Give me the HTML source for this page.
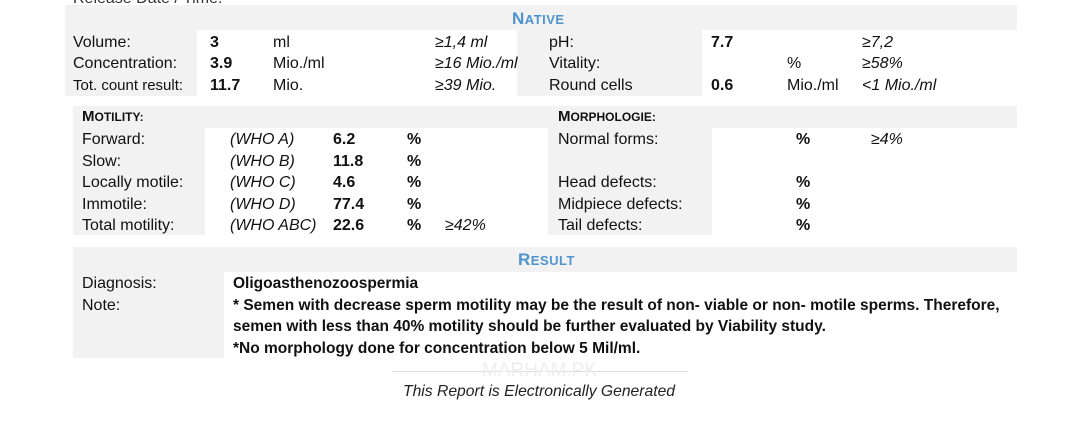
<!DOCTYPE html>
<html><head><meta charset="utf-8">
<style>
body{margin:0;width:1080px;height:421px;background:#fff;position:relative;overflow:hidden;font-family:"Liberation Sans",sans-serif;color:#111;font-size:16px}
.g{position:absolute;background:#f2f2f2}
.t{position:absolute;white-space:nowrap;line-height:17px}
.b{font-weight:bold}
.i{font-style:italic}
.h{position:absolute;color:#4f93cf;font-weight:bold;font-size:17px;letter-spacing:0.5px;line-height:18px}
.h small{font-size:13px}
.sc{font-weight:bold;font-size:15px}
.sc small{font-size:12px}
</style></head><body>
<div class="t" style="left:73px;top:-10px;color:#333">Release Date / Time:</div>

<div class="g" style="left:65px;top:5px;width:952px;height:25px"></div>
<div class="h" style="left:512px;top:10px">N<small>ATIVE</small></div>
<div class="g" style="left:65px;top:30px;width:132px;height:66px"></div>
<div class="g" style="left:517px;top:30px;width:185px;height:66px"></div>

<div class="t" style="left:73px;top:34px">Volume:</div>
<div class="t b" style="left:210px;top:34px">3</div>
<div class="t" style="left:273px;top:34px">ml</div>
<div class="t i" style="left:435px;top:34px">≥1,4 ml</div>
<div class="t" style="left:73px;top:55px">Concentration:</div>
<div class="t b" style="left:210px;top:55px">3.9</div>
<div class="t" style="left:273px;top:55px">Mio./ml</div>
<div class="t i" style="left:435px;top:55px">≥16 Mio./ml</div>
<div class="t" style="left:73px;top:77px;font-size:15px">Tot. count result:</div>
<div class="t b" style="left:210px;top:77px">11.7</div>
<div class="t" style="left:273px;top:77px">Mio.</div>
<div class="t i" style="left:435px;top:77px">≥39 Mio.</div>

<div class="t" style="left:549px;top:34px">pH:</div>
<div class="t b" style="left:711px;top:34px">7.7</div>
<div class="t i" style="left:862px;top:34px">≥7,2</div>
<div class="t" style="left:549px;top:55px">Vitality:</div>
<div class="t" style="left:787px;top:55px">%</div>
<div class="t i" style="left:862px;top:55px">≥58%</div>
<div class="t" style="left:549px;top:77px">Round cells</div>
<div class="t b" style="left:711px;top:77px">0.6</div>
<div class="t" style="left:787px;top:77px">Mio./ml</div>
<div class="t i" style="left:862px;top:77px">&lt;1 Mio./ml</div>

<div class="g" style="left:73px;top:106px;width:944px;height:22px"></div>
<div class="g" style="left:73px;top:128px;width:132px;height:107px"></div>
<div class="g" style="left:548px;top:128px;width:164px;height:107px"></div>
<div class="t sc" style="left:82px;top:108px">M<small>OTILITY:</small></div>
<div class="t sc" style="left:558px;top:108px">M<small>ORPHOLOGIE:</small></div>

<div class="t" style="left:82px;top:131px">Forward:</div>
<div class="t i" style="left:230px;top:131px">(WHO A)</div>
<div class="t b" style="left:333px;top:131px">6.2</div>
<div class="t b" style="left:407px;top:131px">%</div>
<div class="t" style="left:82px;top:153px">Slow:</div>
<div class="t i" style="left:230px;top:153px">(WHO B)</div>
<div class="t b" style="left:333px;top:153px">11.8</div>
<div class="t b" style="left:407px;top:153px">%</div>
<div class="t" style="left:82px;top:174px">Locally motile:</div>
<div class="t i" style="left:230px;top:174px">(WHO C)</div>
<div class="t b" style="left:333px;top:174px">4.6</div>
<div class="t b" style="left:407px;top:174px">%</div>
<div class="t" style="left:82px;top:196px">Immotile:</div>
<div class="t i" style="left:230px;top:196px">(WHO D)</div>
<div class="t b" style="left:333px;top:196px">77.4</div>
<div class="t b" style="left:407px;top:196px">%</div>
<div class="t" style="left:82px;top:217px">Total motility:</div>
<div class="t i" style="left:230px;top:217px">(WHO ABC)</div>
<div class="t b" style="left:333px;top:217px">22.6</div>
<div class="t b" style="left:407px;top:217px">%</div>
<div class="t i" style="left:445px;top:217px">≥42%</div>

<div class="t" style="left:558px;top:131px">Normal forms:</div>
<div class="t b" style="left:796px;top:131px">%</div>
<div class="t i" style="left:871px;top:131px">≥4%</div>
<div class="t" style="left:558px;top:174px">Head defects:</div>
<div class="t b" style="left:796px;top:174px">%</div>
<div class="t" style="left:558px;top:196px">Midpiece defects:</div>
<div class="t b" style="left:796px;top:196px">%</div>
<div class="t" style="left:558px;top:217px">Tail defects:</div>
<div class="t b" style="left:796px;top:217px">%</div>

<div class="g" style="left:73px;top:247px;width:944px;height:25px"></div>
<div class="g" style="left:73px;top:272px;width:151px;height:86px"></div>
<div class="h" style="left:518px;top:251px">R<small>ESULT</small></div>
<div class="t" style="left:82px;top:275px">Diagnosis:</div>
<div class="t b" style="left:233px;top:275px;font-size:15.5px">Oligoasthenozoospermia</div>
<div class="t" style="left:82px;top:297px">Note:</div>
<div class="t b" style="left:233px;top:297px;font-size:15.5px">* Semen with decrease sperm motility may be the result of non- viable or non- motile sperms. Therefore,</div>
<div class="t b" style="left:233px;top:318px;font-size:15.5px">semen with less than 40% motility should be further evaluated by Viability study.</div>
<div class="t b" style="left:233px;top:340px;font-size:15.5px">*No morphology done for concentration below 5 Mil/ml.</div>

<div style="position:absolute;left:392px;top:371px;width:296px;height:1px;background:#ddd"></div>
<div class="t" style="left:482px;top:361px;font-size:19px;color:#eee;line-height:20px">MARHAM.PK</div>
<div class="t i" style="left:403px;top:383px;color:#222;font-size:15.7px">This Report is Electronically Generated</div>
</body></html>
